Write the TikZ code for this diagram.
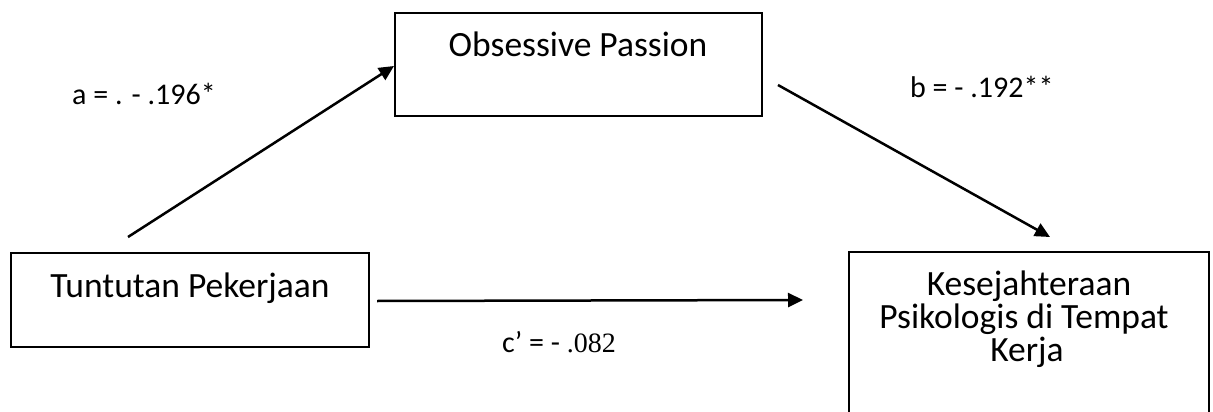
\documentclass[tikz,border=0pt]{standalone}
\usepackage{fontspec}
\setmainfont{Carlito}
\newfontfamily\numfont{Liberation Serif}
\usetikzlibrary{arrows.meta}
\begin{document}
\begin{tikzpicture}[x=1pt,y=-1pt,
  box/.style={draw, line width=2pt, inner sep=0pt},
  txt/.style={inner sep=0pt, anchor=base, font=\fontsize{35.5}{42}\selectfont},
  lbl/.style={inner sep=0pt, anchor=base west, font=\fontsize{30}{36}\selectfont},
  path/.style={line width=2.5pt, -{Triangle[length=15pt,width=14pt]}}]
\useasboundingbox (0,0) rectangle (1213,412);
\clip (0,0) rectangle (1213,412);

% variable boxes
\node[box, minimum width=367pt, minimum height=103pt] (op) at (578.5,64.5) {};
\node[box, minimum width=358pt, minimum height=94pt] (tp) at (190,300) {};
\node[box, minimum width=360pt, minimum height=188pt] (kp) at (1029,346) {};

% box texts
\node[txt] (opt) at (578,57) {Obsessive Passion};
\node[txt] (tpt) at (190,297) {Tuntutan Pekerjaan};
\node[txt] (kp1) at (1029,295) {Kesejahteraan};
\node[txt] (kp2) at (1024,328) {Psikologis di Tempat};
\node[txt] (kp3) at (1027,361) {Kerja};

% path end points
\coordinate (a0) at (128,237);
\coordinate (a1) at (394,66);
\coordinate (b0) at (778,85);
\coordinate (b1) at (1050,237);
\coordinate (c0) at (377,301);
\coordinate (c1) at (803,300);

\draw[path] (a0) -- (a1);
\draw[path] (b0) -- (b1);
\draw[path] (c0) -- (c1);

% coefficients
\node[lbl] (la) at (72,104) {a = . - .196*};
\node[lbl] (lb) at (910,98) {b = - .192**};
\node[lbl] (lc) at (502,352) {c’ = - {\numfont\fontsize{28}{33}\selectfont.082}};
\end{tikzpicture}
\end{document}
